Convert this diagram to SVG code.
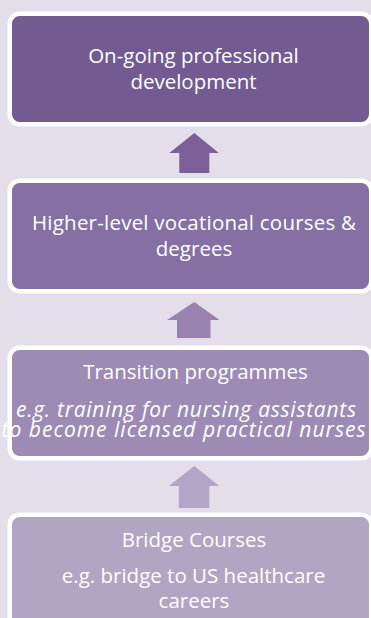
<svg xmlns="http://www.w3.org/2000/svg" width="371" height="618" viewBox="0 0 371 618">
<style>
.box{stroke:#ffffff;stroke-width:4.5}
.t{font-family:"Open Sans","Liberation Sans",sans-serif;font-size:20.5px;fill:#ffffff;text-anchor:middle}
.i{font-style:italic;font-size:21px}
</style>
<rect x="0" y="0" width="371" height="618" fill="#E3DEEA"/>
<g id="connectors">
<polygon points="194.3,133 218.8,153 209.3,153 209.3,173 179.3,173 179.3,153 169.3,153" fill="#7A5F98"/>
<polygon points="194.3,302 219.5,320 210.5,320 210.5,338 177,338 177,320 167,320" fill="#9782B0"/>
<polygon points="194.3,466 219.3,486 209.3,486 209.3,508 178.8,508 178.8,486 168.8,486" fill="#B2A6C6"/>
</g>
<g id="node1">
<rect class="box" x="9.75" y="13.75" width="361.5" height="110.5" rx="10" fill="#735A91"/>
<text class="t" x="193.5" y="63">On-going professional</text>
<text class="t" x="193.5" y="89">development</text>
</g>
<g id="node2">
<rect class="box" x="9.75" y="180.75" width="361.5" height="110.5" rx="10" fill="#8670A3"/>
<text class="t" x="194" y="230" textLength="324" lengthAdjust="spacing">Higher-level vocational courses &amp;</text>
<text class="t" x="194" y="256">degrees</text>
</g>
<g id="node3">
<rect class="box" x="9.75" y="347.75" width="361.5" height="110.5" rx="10" fill="#9D8BB3"/>
<text class="t" x="195.5" y="379">Transition programmes</text>
<text class="t i" x="186" y="416.5" textLength="340" lengthAdjust="spacing">e.g. training for nursing assistants</text>
<text class="t i" x="183.5" y="437" textLength="364" lengthAdjust="spacing">to become licensed practical nurses</text>
</g>
<g id="node4">
<rect class="box" x="9.75" y="514.75" width="361.5" height="120" rx="10" fill="#B1A5C4"/>
<text class="t" x="194" y="547">Bridge Courses</text>
<text class="t" x="193.5" y="583">e.g. bridge to US healthcare</text>
<text class="t" x="194" y="608">careers</text>
</g>
</svg>
